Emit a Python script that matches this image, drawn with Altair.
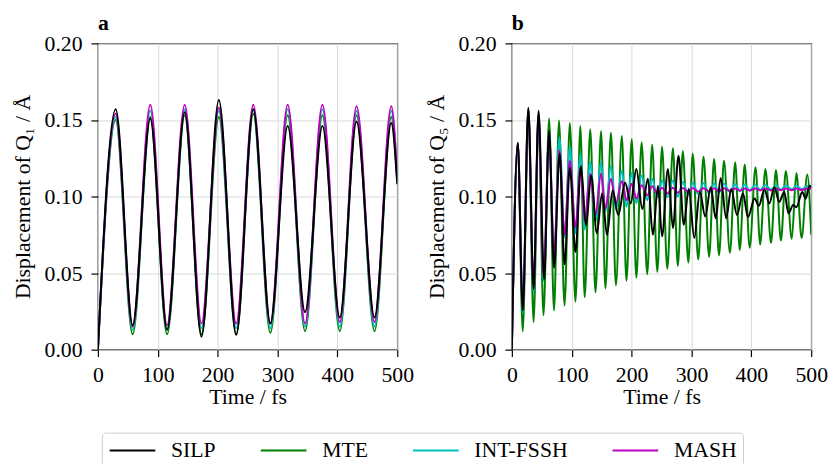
import altair as alt
import pandas as pd

SERIES = ["SILP", "MTE", "INT-FSSH", "MASH"]
COLORS = ["#000000", "#008000", "#00bfbf", "#bf00bf"]
DRAW_ORDER = ["MTE", "INT-FSSH", "MASH", "SILP"]

X_TICKS = [0, 100, 200, 300, 400, 500]
Y_TICKS = [0.0, 0.05, 0.10, 0.15, 0.20]

# ---- panel a (Q1): extrema (time fs, displacement A)
A_TIME = [0, 29.7, 58, 87.5, 115.5, 145, 173, 202, 231, 259.5, 288, 317, 346, 375, 404, 432, 462, 490, 500]
A_SILP = [0, .157, .016, .151, .013, .155, .0085, .163, .0097, .157, .017, .146, .0245, .146, .021, .149, .021, .148, .108]
A_MTE = [0, .150, .010, .152, .010, .153, .010, .152, .010, .154, .011, .153, .012, .153, .012, .153, .012, .152, .110]
A_INT = [0, .152, .013, .156, .013, .157, .014, .156, .014, .157, .014, .157, .015, .157, .015, .156, .015, .156, .111]
A_MASH = [0, .154, .015, .160, .016, .160, .017, .158, .017, .160, .017, .160, .017, .160, .018, .159, .018, .159, .112]

# ---- panel b (Q5): (time, value) pairs
B_SILP = [(0, 0), (9.9, .135), (18.2, .0256), (27.5, .158), (36.3, .0396), (44.6, .156),
          (53.9, .046), (62.2, .1428), (70.4, .0535), (79.8, .128), (88, .0557), (96.8, .119),
          (106.2, .0637), (115.5, .120), (123.8, .081), (132.5, .1138), (141.9, .076), (150.7, .102),
          (158.9, .075), (168.3, .104), (177.7, .088), (189.2, .109), (198.5, .0955), (207.9, .118),
          (217.8, .092), (227.2, .1116), (235.5, .075), (244.2, .107), (250.8, .074), (260.7, .118),
          (269, .0794), (278.3, .1267), (287.1, .0815), (295.4, .105), (304.7, .073), (314, .103),
          (322.9, .087), (332.2, .106), (340.5, .0858), (348.7, .112), (358, .0858), (366.3, .105),
          (376, .088), (386, .102), (394.4, .0865), (405.4, .0987), (412.5, .094), (421.9, .1045),
          (430.1, .0955), (438.4, .106), (446.6, .0966), (454.9, .103), (462, .089), (469.8, .0944),
          (475.2, .093), (485.1, .103), (490.6, .0986), (497.2, .107), (500, .106)]
B_MTE = [(0, 0), (9.9, .135), (18.2, .012), (27.5, .156), (36.3, .018), (44.6, .152),
         (52.8, .0224), (62.2, .151), (70.4, .0256), (78.7, .1497), (88, .0288), (96.8, .148),
         (106.2, .0314), (114.4, .146), (121.6, .0342), (130.9, .1439), (139.7, .0374), (149, .1428),
         (156.2, .040), (165.5, .1417), (173.8, .0421), (183.7, .1396), (191.4, .045), (200.2, .1374),
         (207.9, .047), (216.7, .1353), (226.1, .0492), (234.3, .1338), (243.0, .0508), (250.8, .1325),
         (259.6, .0529), (269, .1316), (277.2, .0546), (285.5, .1295), (294.8, .0568), (302, .128),
         (311.3, .0589), (320.1, .126), (329.5, .0606), (337.8, .1245), (346, .0615), (354.3, .1234),
         (364.2, .0632), (373, .1224), (380.7, .065), (388.9, .1209), (397.2, .0665), (407, .1191),
         (414.7, .0686), (423.5, .118), (432.9, .0697), (441.1, .1174), (449.4, .0712), (457.6, .1166),
         (467.5, .0723), (475.2, .1153), (484, .0729), (493.4, .1144), (500, .075)]
B_INT = [(0, 0), (9.9, .135), (18.2, .024), (27.5, .157), (36.3, .0375), (44.6, .155),
         (53, .045), (62.2, .1418), (70.4, .060), (79.5, .1385), (88, .073), (96.8, .133),
         (106.2, .076), (114.6, .128), (121.6, .0783), (130.9, .1224), (139.7, .0836), (149, .1224),
         (156.2, .090), (165.5, .1202), (173.8, .0912), (183.7, .117), (191.4, .0933), (200.2, .1153),
         (207.9, .0955), (216.7, .1138), (226.1, .0976), (234.3, .1116), (243.0, .0997), (250.8, .1105),
         (259.6, .0995), (269, .1105), (277.2, .100), (285.5, .1095), (294.8, .101), (302, .109),
         (311.3, .1015), (320.1, .1088), (329.5, .102), (337.8, .1085), (346, .1025), (354.3, .1083),
         (364.2, .103), (373, .108), (380.7, .1035), (388.9, .1078), (397.2, .104), (407, .1076),
         (414.7, .1042), (423.5, .1075), (432.9, .1044), (441.1, .1073), (449.4, .1045), (457.6, .1072),
         (467.5, .1046), (475.2, .107), (484, .1047), (493.4, .1068), (500, .106)]
B_MASH = [(0, 0), (9.9, .135), (18.2, .026), (27.5, .157), (36.3, .040), (44.6, .153),
          (53, .048), (62.2, .140), (70.4, .062), (79.5, .130), (88, .075), (96.8, .1234),
          (106.2, .080), (114.6, .119), (121.6, .0836), (130.9, .1148), (139.7, .088), (149, .1148),
          (156.2, .0922), (165.5, .1116), (173.8, .0955), (183.7, .1101), (191.4, .0976), (200.2, .1084),
          (207.9, .0987), (216.7, .1073), (226.1, .1008), (234.3, .1067), (243.0, .1019), (250.8, .1058),
          (259.6, .102), (269, .1058), (277.2, .1025), (285.5, .1055), (294.8, .103), (302, .1055),
          (311.3, .1032), (320.1, .1054), (329.5, .1035), (337.8, .1054), (346, .1036), (354.3, .1054),
          (364.2, .1037), (373, .1053), (380.7, .1038), (388.9, .1053), (397.2, .1039), (407, .1053),
          (414.7, .104), (423.5, .1053), (432.9, .104), (441.1, .1053), (449.4, .1041), (457.6, .1053),
          (467.5, .1041), (475.2, .1053), (484, .1042), (493.4, .1053), (500, .105)]

FONT = "Liberation Serif"


def frame_a():
    src = {"SILP": A_SILP, "MTE": A_MTE, "INT-FSSH": A_INT, "MASH": A_MASH}
    rows = []
    for s in DRAW_ORDER:
        for t, v in zip(A_TIME, src[s]):
            rows.append({"t": t, "v": v, "series": s})
    return pd.DataFrame(rows)


def frame_b():
    src = {"SILP": B_SILP, "MTE": B_MTE, "INT-FSSH": B_INT, "MASH": B_MASH}
    rows = []
    for s in DRAW_ORDER:
        for t, v in src[s]:
            rows.append({"t": t, "v": v, "series": s})
    return pd.DataFrame(rows)


def panel(df, letter, ytitle):
    return alt.Chart(df).mark_line(strokeWidth=2, interpolate="monotone", clip=True).encode(
        x=alt.X("t:Q", scale=alt.Scale(domain=[0, 500], nice=False),
                axis=alt.Axis(values=X_TICKS, format="d", title="Time / fs", labelFlush=False,
                              labelPadding=8, titlePadding=1)),
        y=alt.Y("v:Q", scale=alt.Scale(domain=[0, 0.2], nice=False),
                axis=alt.Axis(values=Y_TICKS, format=".2f", title=ytitle,
                              labelPadding=9, titlePadding=10)),
        color=alt.Color("series:N", scale=alt.Scale(domain=SERIES, range=COLORS),
                        legend=alt.Legend(title=None, orient="none", direction="horizontal",
                                          legendX=4, legendY=394)),
    ).properties(
        width=303, height=310,
        title=alt.TitleParams(letter, anchor="start", frame="group", font=FONT, fontSize=22,
                              fontWeight="bold", offset=-2, color="black"),
    )


pa = panel(frame_a(), "a", "Displacement of Q₁ / Å")
pb = panel(frame_b(), "b", "Displacement of Q₅ / Å")

chart = alt.hconcat(pa, pb, spacing=116).properties(
    bounds="flush", padding={"left": 2, "top": 0, "right": 0, "bottom": 0}
).configure_view(
    stroke="black", strokeWidth=1.2
).configure_axis(
    labelFont=FONT, titleFont=FONT, labelFontSize=22, titleFontSize=22,
    titleFontWeight="normal", labelColor="black", titleColor="black",
    grid=True, gridColor="#d9d9d9", gridWidth=1, domain=False,
    tickColor="black", tickSize=7, tickWidth=1.2,
).configure_legend(
    labelFont=FONT, labelFontSize=22, labelColor="black",
    symbolType="M-2.1,0L2.1,0", symbolSize=484, symbolStrokeWidth=2,
    symbolOffset=13, labelOffset=27, columnPadding=40, padding=6,
    strokeColor="#cccccc", fillColor="white", cornerRadius=4,
)

chart.save("out.html", embed_options={"renderer": "svg", "actions": False})
